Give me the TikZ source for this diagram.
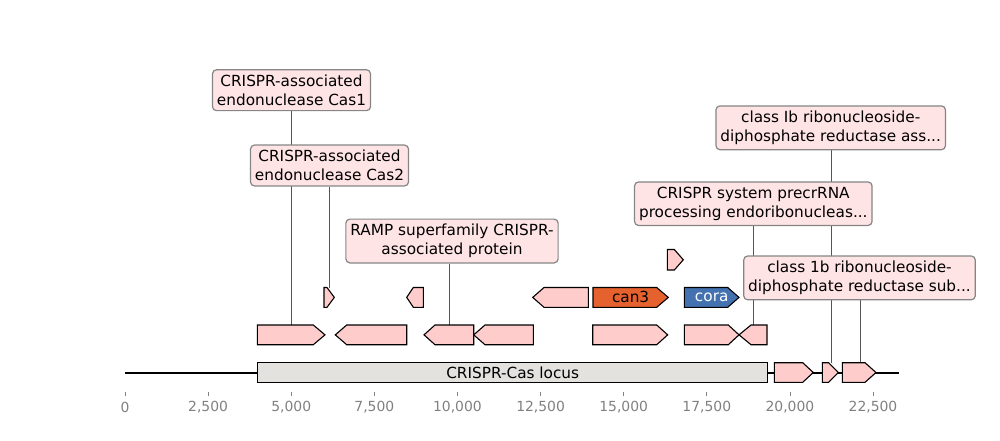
\documentclass[tikz,border=0pt]{standalone}
\usepackage{fontspec}
\setmainfont{DejaVu Sans}
\usetikzlibrary{backgrounds}
\definecolor{genefill}{HTML}{FFCCCC}
\definecolor{boxfill}{HTML}{FFE4E6}
\definecolor{boxedge}{HTML}{858585}
\definecolor{locusfill}{HTML}{E3E2DE}
\definecolor{canorange}{HTML}{E5622E}
\definecolor{corablue}{HTML}{4472B0}
\definecolor{tickgray}{HTML}{808080}
\definecolor{leader}{HTML}{555555}
\tikzset{
  genestyle/.style={draw=black, line width=1.1pt, line join=miter, fill=genefill},
  labelbox/.style={draw=boxedge, line width=1.2pt, fill=boxfill, rounded corners=4pt,
     align=center, font=\fontsize{15.3}{18.6}\selectfont, inner xsep=4.5pt, inner ysep=5.2pt},
  leaderline/.style={draw=leader, line width=0.8pt},
  ticklabel/.style={font=\fontsize{13.9}{16}\selectfont, text=tickgray, inner sep=0pt},
  tickmark/.style={draw=tickgray, line width=0.8pt}
}
\newcommand\fgene[6]{\draw[genestyle,#6] (#1,#4) -- (#2,#4) -- ({#3},{(#4+#5)/2}) -- (#2,#5) -- (#1,#5) -- cycle;}
\newcommand\rgene[6]{\draw[genestyle,#6] (#3,#4) -- (#2,#4) -- ({#1},{(#4+#5)/2}) -- (#2,#5) -- (#3,#5) -- cycle;}
\begin{document}
\begin{tikzpicture}[x=1pt,y=-1pt]
\useasboundingbox (0,0) rectangle (1000,440);
% baseline
\draw[line width=1.8pt] (125,372.6) -- (899,372.6);
% locus
\node[draw=black, line width=1.1pt, fill=locusfill, minimum width=509.7pt, minimum height=19.6pt, inner sep=0pt,
      font=\fontsize{15.3}{18}\selectfont, anchor=west] (locus) at (257.3,372.5) {CRISPR-Cas locus};
% row 0
\fgene{774.3}{802.7}{813.3}{362.7}{382.3}{}
\fgene{822.3}{828.5}{838.3}{362.7}{382.3}{}
\fgene{842.3}{865}{876}{362.7}{382.3}{}
% row 1
\fgene{257.3}{313.3}{325}{325}{344.7}{}
\rgene{335.3}{346.7}{406.7}{325}{344.7}{}
\rgene{424}{435}{473.7}{325}{344.7}{}
\rgene{473.7}{485}{533.3}{325}{344.7}{}
\fgene{592.7}{656.7}{667.7}{325}{344.7}{}
\fgene{684.3}{728.3}{739}{325}{344.7}{}
\rgene{739}{751}{767}{325}{344.7}{}
% row 2
\fgene{324}{327}{334.3}{287.5}{307.3}{}
\rgene{406.7}{413.3}{423.3}{287.5}{307.3}{}
\rgene{532.7}{544}{588.3}{287.5}{307.3}{}
\fgene{593}{656.7}{668.3}{287.5}{307.3}{fill=canorange}
\fgene{684.3}{727.7}{739}{287.5}{307.3}{fill=corablue}
\node[font=\fontsize{15.3}{18}\selectfont, inner sep=0pt] (can3) at (630.6,297.4) {can3};
\node[font=\fontsize{15.3}{18}\selectfont, text=white, inner sep=0pt] (cora) at (711.7,297.4) {cora};
% row 3
\fgene{667.3}{674.3}{683.3}{249.5}{270}{}
% leader ends
\coordinate (e1) at (291.7,325);
\coordinate (e2) at (329.3,287.5);
\coordinate (e3) at (449.3,325);
\coordinate (e4) at (753.3,325);
\coordinate (e5) at (831.7,362.7);
\coordinate (e6) at (860.3,362.7);
% label boxes
\node[labelbox] (cas1) at (291.5,90.2) {CRISPR-associated\\endonuclease Cas1};
\node[labelbox] (cas2) at (329.5,165.5) {CRISPR-associated\\endonuclease Cas2};
\node[labelbox] (ramp) at (452,241) {RAMP superfamily CRISPR-\\associated protein};
\node[labelbox] (rnrass) at (830.7,127.8) {class Ib ribonucleoside-\\diphosphate reductase ass...};
\node[labelbox] (precr) at (753.3,203.7) {CRISPR system precrRNA\\processing endoribonucleas...};
\node[labelbox] (rnrsub) at (859.5,277.9) {class 1b ribonucleoside-\\diphosphate reductase sub...};
\begin{scope}[on background layer]
\draw[leaderline] (cas1.south -| e1) -- (e1);
\draw[leaderline] (cas2.south -| e2) -- (e2);
\draw[leaderline] (ramp.south -| e3) -- (e3);
\draw[leaderline] (precr.south -| e4) -- (e4);
\draw[leaderline] (rnrass.south -| e5) -- (e5);
\draw[leaderline] (rnrsub.south -| e6) -- (e6);
\end{scope}
% axis
\foreach \v/\t [count=\i] in {0/0,2.5/{2,500},5/{5,000},7.5/{7,500},10/{10,000},12.5/{12,500},15/{15,000},17.5/{17,500},20/{20,000},22.5/{22,500}} {
  \coordinate (tk\i) at ({125+\v*33.245},392);
  \draw[tickmark] (tk\i) -- ++(0,4);
  \node[ticklabel] (tl\i) at ({125+\v*33.245},407.5) {\t};
}
\end{tikzpicture}
\end{document}
